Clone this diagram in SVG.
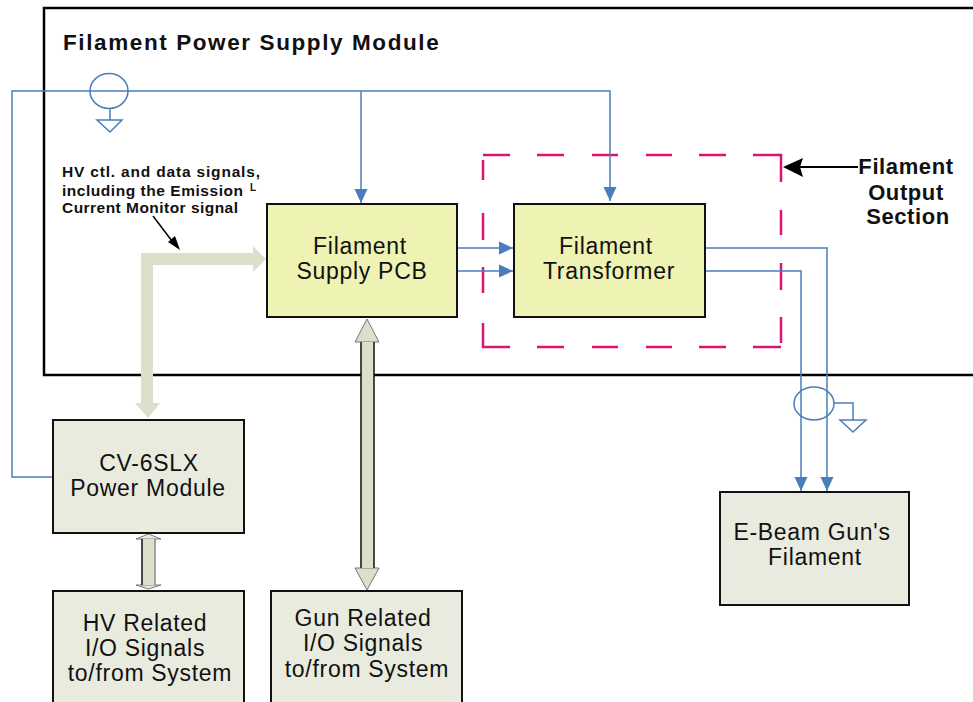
<svg xmlns="http://www.w3.org/2000/svg" width="973" height="702" viewBox="0 0 973 702">
<style>
text{font-family:"Liberation Sans",Arial,sans-serif;fill:#111;text-anchor:middle}
.n{font-size:23px;letter-spacing:.7px}
.s{font-size:15.5px;font-weight:bold;text-anchor:start}
.b{font-size:22px;font-weight:bold;letter-spacing:.6px}
.y{fill:#eef3b4;stroke:#111;stroke-width:2}
.g{fill:#e9ebdf;stroke:#111;stroke-width:2}
.w{fill:none;stroke:#4a7ebb;stroke-width:1.5}
.dash{fill:none;stroke:#dd1277;stroke-width:2.5}
.fat{fill:#dddfcd;stroke:none}
</style>
<defs>
<marker id="a" markerUnits="userSpaceOnUse" markerWidth="15" markerHeight="15" refX="14" refY="7" orient="auto"><path d="M0 .5L14 7L0 13.5Z" fill="#4a7ebb"/></marker>
</defs>
<g id="module"><path d="M973 8H44V375H973" fill="none" stroke="#000" stroke-width="2.5"/>
<text x="63" y="50" style="font-size:22.5px;font-weight:bold;text-anchor:start;letter-spacing:1.6px">Filament Power Supply Module</text></g>
<g id="output-section"><path class="dash" d="M483 155H510M537 155H564M592 155H618M646 155H672M699 155H726M753 155H781V182M781 210V235M781 263V290M781 317V343M483 160V180M483 213V240M483 267V293M483 323V347H510M537 347H564M592 347H618M646 347H672M699 347H726M753 347H781"/></g>
<g id="connectors">
<path class="w" d="M53 477H12V91H610V201" marker-end="url(#a)"/>
<path class="w" d="M361 91V203" marker-end="url(#a)"/>
<path class="w" d="M457 248H513" marker-end="url(#a)"/>
<path class="w" d="M457 271H513" marker-end="url(#a)"/>
<path class="w" d="M706 248H827V491" marker-end="url(#a)"/>
<path class="w" d="M706 271H801V491" marker-end="url(#a)"/>
<ellipse class="w" cx="109" cy="91" rx="19" ry="17.5"/>
<path class="w" d="M110 109V120M97 120H122L110 132Z"/>
<ellipse class="w" cx="814" cy="403.500" rx="20" ry="16.500"/>
<path class="w" d="M834 403H853V420M840 420H866L853 432Z"/>
<path class="fat" d="M141 253H253V246L266 259L253 272V265H153V403H160L148 418L135 403H141Z"/>
<path d="M367 319L379 342H355Z M367 590L355 568H379Z" fill="#dddfcd" stroke="#777" stroke-width="1"/>
<rect x="361" y="342" width="13" height="226" fill="#dddfcd"/>
<path d="M361 342V568M374 342V568" stroke="#111" stroke-width="1.500" fill="none"/>
<path d="M148.500 534L161 539H136Z M148.500 589L136 585H161Z" fill="#e9ebdf" stroke="#777" stroke-width="1"/>
<rect x="142" y="539" width="13" height="46" fill="#dddfcd"/>
<path d="M142 539V585" stroke="#111" stroke-width="1.500" fill="none"/>
<path d="M155 539V585" stroke="#888" stroke-width="1.500" fill="none"/>
<path d="M153 216L175 245" stroke="#000" stroke-width="1.500" fill="none"/><path d="M180 250L168 242L175 236Z" fill="#000"/>
<path d="M858 167H800" stroke="#000" stroke-width="2"/><path d="M783 167L803 158L800 167L803 177Z" fill="#000"/>
</g>
<g id="pcb"><rect class="y" x="267" y="204" width="190" height="113"/><text class="n" x="360" y="254">Filament</text><text class="n" x="362" y="279">Supply PCB</text></g>
<g id="transformer"><rect class="y" x="514" y="204" width="191" height="113"/><text class="n" x="606" y="254">Filament</text><text class="n" x="609" y="279">Transformer</text></g>
<g id="cv"><rect class="g" x="53" y="420" width="191" height="113"/><text class="n" x="149" y="471">CV-6SLX</text><text class="n" x="148" y="496">Power Module</text></g>
<g id="hv"><rect class="g" x="53" y="591" width="191" height="120"/><text class="n" x="145" y="631">HV Related</text><text class="n" x="145" y="656">I/O Signals</text><text class="n" x="150" y="681">to/from System</text></g>
<g id="gun"><rect class="g" x="271" y="591" width="191" height="120"/><text class="n" x="363" y="626">Gun Related</text><text class="n" x="363" y="651">I/O Signals</text><text class="n" x="367" y="677">to/from System</text></g>
<g id="filament"><rect class="g" x="720" y="492" width="189" height="113"/><text class="n" x="812" y="540">E-Beam Gun's</text><text class="n" x="815" y="565">Filament</text></g>
<g id="label-section"><text class="b" x="906" y="174">Filament</text><text class="b" x="906" y="200">Output</text><text class="b" x="908" y="224">Section</text></g>
<g id="label-hv"><text class="s" x="62" y="177" textLength="198">HV ctl. and data signals,</text><text class="s" x="62" y="196" textLength="181">including the Emission</text><text x="250" y="191" style="font-size:10px;font-weight:bold;text-anchor:start">L</text><text class="s" x="62" y="213" textLength="176">Current Monitor signal</text></g>
</svg>
